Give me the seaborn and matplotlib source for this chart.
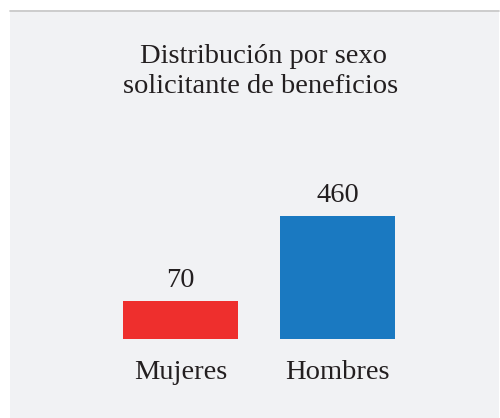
import pandas as pd
import seaborn as sns
import matplotlib.pyplot as plt
from matplotlib.patches import Rectangle
from matplotlib.lines import Line2D

categorias = ["Mujeres", "Hombres"]
solicitantes = [70, 460]
colores = ["#ee2f2d", "#1a79c1"]
titulo = ["Distribución por sexo", "solicitante de beneficios"]

sns.set_style("white")
plt.rcParams['font.family'] = ['Liberation Serif', 'DejaVu Serif']
texto = "#231f20"

df = pd.DataFrame({"sexo": categorias, "total": solicitantes})

fig = plt.figure(figsize=(5, 4.18), dpi=100)
fig.patch.set_facecolor("white")

# panel gris de fondo con linea superior
W, H = 500, 418
fig.patches.append(Rectangle((10 / W, 0), 489 / W, (H - 10) / H, transform=fig.transFigure,
                             facecolor="#f1f2f4", edgecolor="none", zorder=-2))
fig.lines.append(Line2D([10 / W, 499 / W], [(H - 10.5) / H] * 2, transform=fig.transFigure,
                        color="#c6c6c6", lw=1.2, zorder=-1))

ax = fig.add_axes([23.5 / W, (H - 338.5) / H, 471 / W, 198.5 / H])
ax.set_zorder(2)
ax.set_facecolor("none")
sns.barplot(data=df, x="sexo", y="total", hue="sexo", palette=colores,
            width=0.733, legend=False, saturation=1, linewidth=0, ax=ax)
ax.set_yscale("log")
ax.set_ylim(30.5, 2473)
ax.set_xlim(-1, 2)

for c in ax.containers:
    ax.bar_label(c, padding=6, fontsize=20.5, color=texto)

ax.set_xlabel("")
ax.set_ylabel("")
ax.set_yticks([])
ax.minorticks_off()
ax.tick_params(axis="x", length=0, pad=15.5, labelsize=20.5, labelcolor=texto)
ax.tick_params(axis="y", which="both", length=0, left=False)
sns.despine(ax=ax, left=True, bottom=True)

fig.text(263 / W, (H - 63) / H, titulo[0], ha="center", va="baseline", fontsize=20.5, color=texto)
fig.text(261 / W, (H - 93) / H, titulo[1], ha="center", va="baseline", fontsize=20.5, color=texto)

fig.savefig("out.png", dpi=100)
